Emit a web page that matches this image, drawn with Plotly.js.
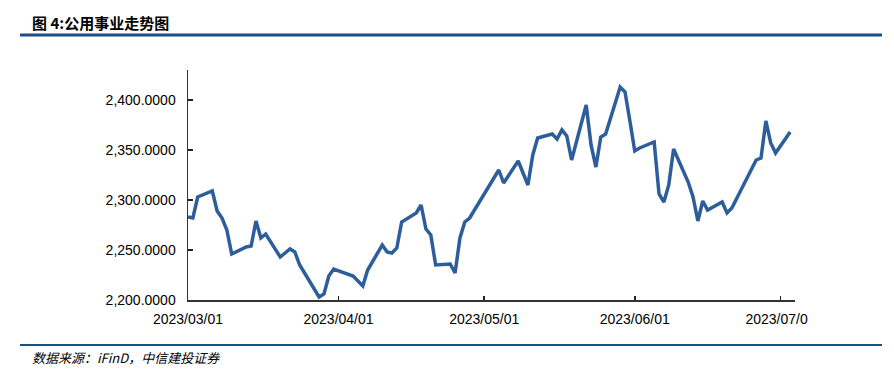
<!DOCTYPE html>
<html>
<head>
<meta charset="utf-8">
<script src="https://cdn.plot.ly/plotly-3.0.1.min.js"></script>
<style>html,body{margin:0;padding:0;background:#fff;}#chart{width:894px;height:380px;}</style>
</head>
<body>
<div id="chart"></div>
<script>
const dates = [
 '2023-03-01','2023-03-02','2023-03-03','2023-03-06','2023-03-07','2023-03-08','2023-03-09','2023-03-10',
 '2023-03-13','2023-03-14','2023-03-15','2023-03-16','2023-03-17','2023-03-20','2023-03-21','2023-03-22',
 '2023-03-23','2023-03-24','2023-03-27','2023-03-28','2023-03-29','2023-03-30','2023-03-31',
 '2023-04-03','2023-04-04','2023-04-06','2023-04-07','2023-04-10','2023-04-11','2023-04-12','2023-04-13',
 '2023-04-14','2023-04-17','2023-04-18','2023-04-19','2023-04-20','2023-04-21','2023-04-24','2023-04-25',
 '2023-04-26','2023-04-27','2023-04-28',
 '2023-05-04','2023-05-05','2023-05-08','2023-05-09','2023-05-10','2023-05-11','2023-05-12','2023-05-15',
 '2023-05-16','2023-05-17','2023-05-18','2023-05-19','2023-05-22','2023-05-23','2023-05-24','2023-05-25',
 '2023-05-26','2023-05-29','2023-05-30','2023-05-31',
 '2023-06-01','2023-06-02','2023-06-05','2023-06-06','2023-06-07','2023-06-08','2023-06-09','2023-06-12',
 '2023-06-13','2023-06-14','2023-06-15','2023-06-16','2023-06-19','2023-06-20','2023-06-21','2023-06-26',
 '2023-06-27','2023-06-28','2023-06-29','2023-06-30','2023-07-03'
];
const values = [
 2283,2282,2303,2309,2289,2282,2270,2246,
 2253,2254,2279,2262,2266,2243,2247,2251,
 2248,2235,2211,2203,2206,2224,2231,
 2226,2224,2214,2230,2255,2248,2247,2252,
 2278,2287,2295,2271,2265,2235,2236,2227,
 2262,2278,2282,
 2330,2317,2339,2327,2315,2345,2362,2366,
 2361,2370,2364,2340,2395,2355,2333,2363,
 2366,2413,2408,2379,
 2349,2352,2358,2306,2298,2315,2351,2318,
 2303,2279,2299,2290,2298,2287,2292,2340,
 2342,2379,2357,2347,2368
];
const xTickVals = ['2023-03-01','2023-04-01','2023-05-01','2023-06-01','2023-07-01'];
const xTickText = ['2023/03/01','2023/04/01','2023/05/01','2023/06/01','2023/07/0\u00a0\u00a0'];
const yTickVals = [2200,2250,2300,2350,2400];
const yTickText = ['2,200.0000','2,250.0000','2,300.0000','2,350.0000','2,400.0000'];
const titleText = '<b>图 4:公用事业走势图</b>';
const sourceText = '<i>数据来源：iFinD，中信建投证券</i>';

const L = 188, R = 795, T = 70, B = 300;
const px = x => (x - L) / (R - L);
const py = y => (B - y) / (B - T);

const trace = {
  x: dates, y: values, type: 'scatter', mode: 'lines',
  line: {color: '#2E5E99', width: 3.5}, hoverinfo: 'skip'
};

const layout = {
  width: 894, height: 380,
  margin: {l: L, r: 894 - R, t: T, b: 380 - B},
  paper_bgcolor: '#fff', plot_bgcolor: '#fff',
  showlegend: false,
  font: {family: 'Liberation Sans, Arial, sans-serif', size: 14, color: '#000'},
  xaxis: {
    type: 'date', range: ['2023-03-01', '2023-07-04'],
    tickvals: xTickVals, ticktext: xTickText,
    ticks: 'inside', ticklen: 4, tickwidth: 1.5, tickcolor: '#222',
    showline: true, linecolor: '#333', linewidth: 1.5,
    showgrid: false, zeroline: false,
    tickfont: {size: 14, color: '#000'}, ticklabelstandoff: 6
  },
  yaxis: {
    range: [2200, 2430],
    tickvals: yTickVals, ticktext: yTickText,
    ticks: 'inside', ticklen: 5, tickwidth: 1.5, tickcolor: '#222',
    showline: true, linecolor: '#333', linewidth: 1.5,
    showgrid: false, zeroline: false,
    tickfont: {size: 14, color: '#000'}, ticklabelstandoff: 8
  },
  shapes: [
    {type: 'line', xref: 'paper', yref: 'paper', x0: px(20), x1: px(882), y0: py(35), y1: py(35),
     line: {color: '#1B4F86', width: 3}},
    {type: 'line', xref: 'paper', yref: 'paper', x0: px(20), x1: px(882), y0: py(345), y1: py(345),
     line: {color: '#1B4F86', width: 2}}
  ],
  annotations: [
    {text: titleText, xref: 'paper', yref: 'paper', x: px(30), y: py(22), xanchor: 'left', yanchor: 'middle',
     showarrow: false, font: {family: 'Noto Sans CJK SC, sans-serif', size: 15, color: '#000'}},
    {text: sourceText, xref: 'paper', yref: 'paper', x: px(30), y: py(357), xanchor: 'left', yanchor: 'middle',
     showarrow: false, font: {family: 'Noto Sans CJK SC, sans-serif', size: 13, color: '#000'}}
  ]
};

Plotly.newPlot('chart', [trace], layout, {staticPlot: true, displayModeBar: false});
</script>
</body>
</html>
